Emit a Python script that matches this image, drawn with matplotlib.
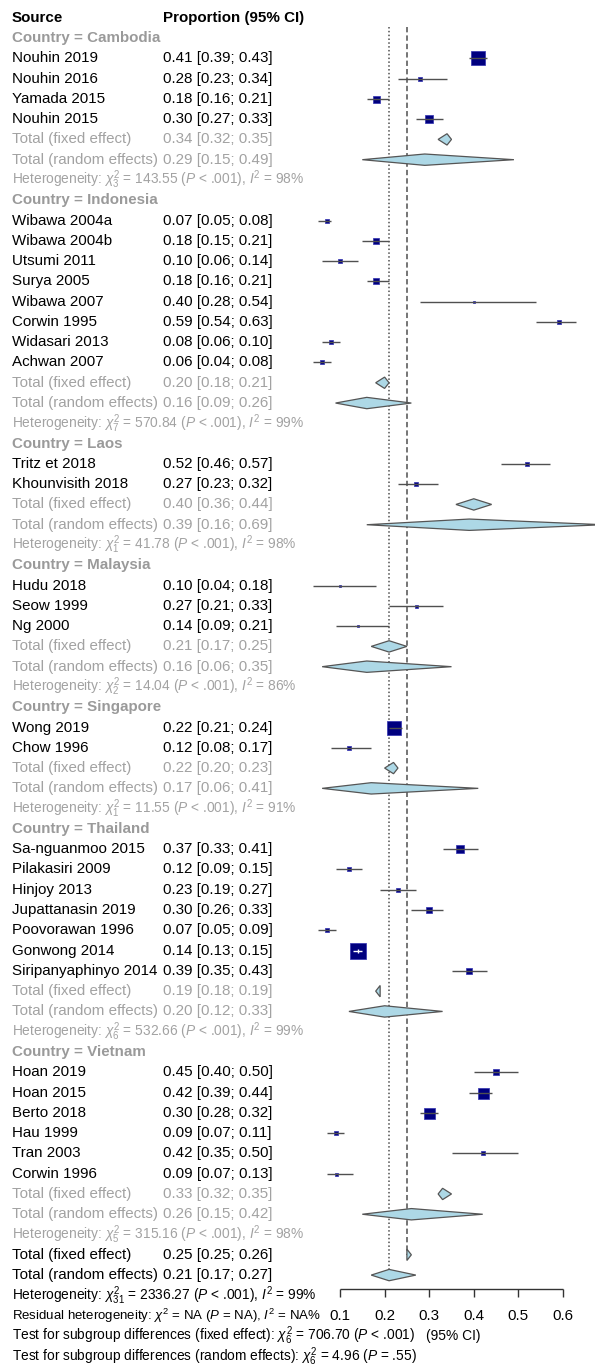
import numpy as np
import matplotlib.pyplot as plt
from matplotlib.patches import Polygon
from matplotlib.transforms import blended_transform_factory

plt.rcParams['font.family'] = ['Liberation Sans', 'DejaVu Sans']
plt.rcParams['mathtext.fontset'] = 'custom'
plt.rcParams['mathtext.rm'] = 'Liberation Sans'
plt.rcParams['mathtext.it'] = 'Liberation Sans:italic'
plt.rcParams['mathtext.bf'] = 'Liberation Sans:bold'

# === Data ===
countries = ['Cambodia', 'Indonesia', 'Laos', 'Malaysia', 'Singapore', 'Thailand', 'Vietnam']

studies = [
    ['Nouhin 2019', 'Nouhin 2016', 'Yamada 2015', 'Nouhin 2015'],
    ['Wibawa 2004a', 'Wibawa 2004b', 'Utsumi 2011', 'Surya 2005', 'Wibawa 2007',
     'Corwin 1995', 'Widasari 2013', 'Achwan 2007'],
    ['Tritz et 2018', 'Khounvisith 2018'],
    ['Hudu 2018', 'Seow 1999', 'Ng 2000'],
    ['Wong 2019', 'Chow 1996'],
    ['Sa-nguanmoo 2015', 'Pilakasiri 2009', 'Hinjoy 2013', 'Jupattanasin 2019',
     'Poovorawan 1996', 'Gonwong 2014', 'Siripanyaphinyo 2014'],
    ['Hoan 2019', 'Hoan 2015', 'Berto 2018', 'Hau 1999', 'Tran 2003', 'Corwin 1996'],
]
prop = [
    [0.41, 0.28, 0.18, 0.30],
    [0.07, 0.18, 0.10, 0.18, 0.40, 0.59, 0.08, 0.06],
    [0.52, 0.27],
    [0.10, 0.27, 0.14],
    [0.22, 0.12],
    [0.37, 0.12, 0.23, 0.30, 0.07, 0.14, 0.39],
    [0.45, 0.42, 0.30, 0.09, 0.42, 0.09],
]
lower = [
    [0.39, 0.23, 0.16, 0.27],
    [0.05, 0.15, 0.06, 0.16, 0.28, 0.54, 0.06, 0.04],
    [0.46, 0.23],
    [0.04, 0.21, 0.09],
    [0.21, 0.08],
    [0.33, 0.09, 0.19, 0.26, 0.05, 0.13, 0.35],
    [0.40, 0.39, 0.28, 0.07, 0.35, 0.07],
]
upper = [
    [0.43, 0.34, 0.21, 0.33],
    [0.08, 0.21, 0.14, 0.21, 0.54, 0.63, 0.10, 0.08],
    [0.57, 0.32],
    [0.18, 0.33, 0.21],
    [0.24, 0.17],
    [0.41, 0.15, 0.27, 0.33, 0.09, 0.15, 0.43],
    [0.50, 0.44, 0.32, 0.11, 0.50, 0.13],
]
# relative study weights
weight = [
    [17.0, 1.6, 4.9, 6.4],
    [2.5, 3.6, 1.6, 3.6, 0.4, 2.5, 2.5, 1.6],
    [2.5, 2.5],
    [0.4, 0.9, 0.4],
    [17.0, 1.6],
    [6.4, 1.6, 2.5, 3.6, 2.5, 25.6, 3.6],
    [3.6, 12.1, 12.1, 1.6, 1.6, 0.9],
]

fixed_est = [0.34, 0.20, 0.40, 0.21, 0.22, 0.19, 0.33]
fixed_lo = [0.32, 0.18, 0.36, 0.17, 0.20, 0.18, 0.32]
fixed_hi = [0.35, 0.21, 0.44, 0.25, 0.23, 0.19, 0.35]
rand_est = [0.29, 0.16, 0.39, 0.16, 0.17, 0.20, 0.26]
rand_lo = [0.15, 0.09, 0.16, 0.06, 0.06, 0.12, 0.15]
rand_hi = [0.49, 0.26, 0.69, 0.35, 0.41, 0.33, 0.42]
het_chi2 = ['143.55', '570.84', '41.78', '14.04', '11.55', '532.66', '315.16']
het_df = [3, 7, 1, 2, 1, 6, 5]
het_i2 = [98, 99, 98, 86, 91, 99, 98]

overall_fixed = [0.25, 0.25, 0.26]
overall_random = [0.21, 0.17, 0.27]
ticks = [0.1, 0.2, 0.3, 0.4, 0.5, 0.6]

# === Layout (pixels of the 595x1367 picture) ===
W, H = 595, 1367
PX0, PXS = 340, 446        # pixel of 0.1, pixels per 1.0
ROW0, ROWH = 38, 20.28     # pixel of first row, row height
fig = plt.figure(figsize=(W / 100, H / 100), dpi=100)
ax = fig.add_axes([0, 0, 1, 1])
ax.set_xlim(0.1 - PX0 / PXS, 0.1 + (W - PX0) / PXS)
ax.set_ylim((H - ROW0) / ROWH, -ROW0 / ROWH)
ax.axis('off')
tr = blended_transform_factory(ax.transAxes, ax.transData)
XN, XV = 12 / W, 163 / W

GREY = '#a2a2a2'
LINE = '#505050'
FS = 10.9
FSH = 9.9


def txt(x, row, s, **kw):
    kw.setdefault('fontsize', FS)
    ax.text(x, row, s, transform=tr, va='center', ha='left', **kw)


def ci(p, lo, hi):
    return f'{p:.2f} [{lo:.2f}; {hi:.2f}]'


def diamond(row, est, lo, hi, h=0.28):
    ax.add_patch(Polygon([(lo, row), (est, row - h), (hi, row), (est, row + h)],
                         closed=True, facecolor='#add8e6', edgecolor='#555555',
                         lw=0.9, zorder=4))


txt(XN, -1, 'Source', fontweight='bold')
txt(XV, -1, 'Proportion (95% CI)', fontweight='bold')

row = 0
for g, country in enumerate(countries):
    txt(XN, row, f'Country = {country}', color='#9a9a9a', fontweight='bold')
    row += 1
    for name, p, lo, hi, w in zip(studies[g], prop[g], lower[g], upper[g], weight[g]):
        txt(XN, row, name)
        txt(XV, row, ci(p, lo, hi))
        side = np.sqrt(w * 10)  # px
        ax.scatter([p], [row], marker='s', s=(side * 0.72) ** 2, color='#00007f',
                   edgecolors='#3030b0', linewidths=0.5, zorder=5)
        inside = (hi - lo) * PXS < side
        ax.hlines(row, lo, hi, color='white' if inside else LINE, lw=1.0, zorder=6)
        if inside:
            ax.vlines(p, row - 0.1, row + 0.1, color='white', lw=1.0, zorder=6)
        row += 1
    txt(XN, row, 'Total (fixed effect)', color=GREY)
    txt(XV, row, ci(fixed_est[g], fixed_lo[g], fixed_hi[g]), color=GREY)
    diamond(row, fixed_est[g], fixed_lo[g], fixed_hi[g])
    row += 1
    txt(XN, row, 'Total (random effects)', color=GREY)
    txt(XV, row, ci(rand_est[g], rand_lo[g], rand_hi[g]), color=GREY)
    diamond(row, rand_est[g], rand_lo[g], rand_hi[g])
    row += 1
    txt(XN, row, 'Heterogeneity: $\\chi^2_{%d}$ = %s ($P$ < .001), $I^2$ = %d%%'
        % (het_df[g], het_chi2[g], het_i2[g]), color=GREY, fontsize=FSH)
    row += 1

# overall rows
r_fix, r_ran = row, row + 1
txt(XN, r_fix, 'Total (fixed effect)')
txt(XV, r_fix, ci(*overall_fixed))
diamond(r_fix, *overall_fixed)
txt(XN, r_ran, 'Total (random effects)')
txt(XV, r_ran, ci(*overall_random))
diamond(r_ran, *overall_random)
txt(XN, row + 2, 'Heterogeneity: $\\chi^2_{31}$ = 2336.27 ($P$ < .001), $I^2$ = 99%', fontsize=FSH)
txt(XN, row + 3, 'Residual heterogeneity: $\\chi^2$ = NA ($P$ = NA), $I^2$ = NA%', fontsize=9.5)
txt(XN, row + 4, 'Test for subgroup differences (fixed effect): $\\chi^2_{6}$ = 706.70 ($P$ < .001)', fontsize=FSH)
txt(XN, row + 5, 'Test for subgroup differences (random effects): $\\chi^2_{6}$ = 4.96 ($P$ = .55)', fontsize=FSH)

# reference lines
top = -0.55
ax.vlines(overall_fixed[0], top, r_fix, color=LINE, lw=1.1, linestyles=(0, (3.5, 2)), zorder=1)
ax.vlines(overall_random[0], top, r_ran, color=LINE, lw=1.1, linestyles=(0, (1, 1.5)), zorder=1)

# x axis
ya = row + 1.7
ax.hlines(ya, ticks[0], ticks[-1], color='#333333', lw=1.0)
ax.vlines(ticks, ya, ya + 0.4, color='#333333', lw=1.0)
for t in ticks:
    ax.text(t, row + 3, f'{t:.1f}', ha='center', va='center', fontsize=FS)
ax.text(np.mean([ticks[0], ticks[-1]]) + 0.005, row + 4, '(95% CI)',
        ha='center', va='center', fontsize=FSH)

fig.savefig('out.png', dpi=100)
